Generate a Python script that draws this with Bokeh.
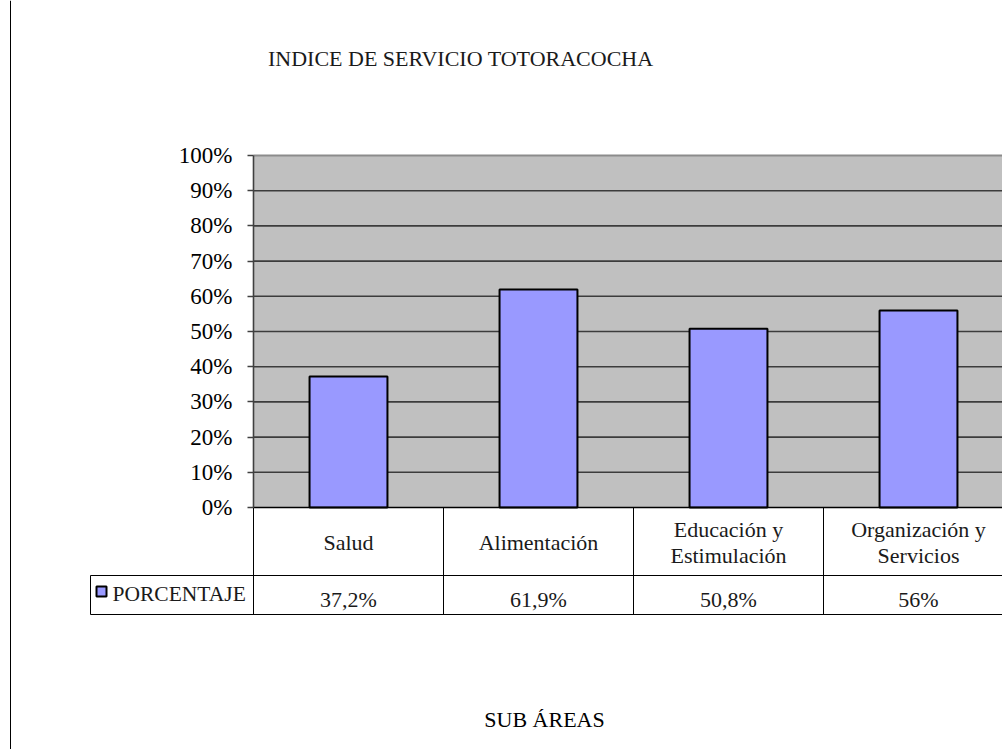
from bokeh.plotting import figure
from bokeh.models import LinearAxis, FixedTicker, PrintfTickFormatter, Range1d
from bokeh.core.properties import value
from bokeh.embed import file_html
from bokeh.resources import INLINE

# ---------------- data ----------------
categories = ["Salud", "Alimentación", "Educación y\nEstimulación", "Organización y\nServicios"]
percentages = [37.2, 61.9, 50.8, 56.0]
series_name = "PORCENTAJE"
y_ticks = [0, 10, 20, 30, 40, 50, 60, 70, 80, 90, 100]
chart_title = "INDICE DE SERVICIO  TOTORACOCHA"
x_title = "SUB ÁREAS"

value_labels = [(f"{v:g}").replace(".", ",") + "%" for v in percentages]

# ---------------- layout geometry (px, figure-local) ----------------
W, H = 1002, 749
AX_X = 253      # left edge of plot area
CAT = 190       # px per category
Y0 = 507        # 0% baseline from top
PXY = 352       # px for 100%

def px_x(px):
    return (px - AX_X) / CAT

def px_y(py):
    return (Y0 - py) / PXY * 100.0

x_start, x_end = px_x(0), px_x(W)
y_bottom, y_top = px_y(H), px_y(0)

FONT = value("Liberation Serif")

p = figure(width=W, height=H, x_range=Range1d(x_start, x_end), y_range=Range1d(y_bottom, y_top),
           min_border=0, toolbar_location=None, output_backend="svg",
           x_axis_type=None, y_axis_type=None, outline_line_color=None,
           background_fill_color="white", border_fill_color="white")

n = len(categories)
centers = [i + 0.5 for i in range(n)]
boundaries = list(range(n + 1))

# plot area background
p.quad(left=[0], right=[x_end + 1], bottom=[0], top=[100], fill_color="#C0C0C0", line_color=None)

# grid lines
inner = [t for t in y_ticks if 0 < t < max(y_ticks)]
p.segment(x0=[0] * len(inner), x1=[x_end + 1] * len(inner), y0=inner, y1=inner,
          line_color="#3c3c3c", line_width=1.6)
p.segment(x0=[0], x1=[x_end + 1], y0=[max(y_ticks)], y1=[max(y_ticks)], line_color="#8c8c8c", line_width=2)

# bars
p.vbar(x=centers, width=0.41, top=percentages, bottom=0, fill_color="#9999FF",
       line_color="black", line_width=2)

# data table below the chart
row1_bottom = px_y(575)
row2_bottom = px_y(614)
legend_left = px_x(90)
p.segment(x0=[0], x1=[x_end + 1], y0=[0], y1=[0], line_color="black", line_width=1.5)
p.segment(x0=boundaries, x1=boundaries, y0=[0] * len(boundaries), y1=[row2_bottom] * len(boundaries),
          line_color="black", line_width=1)
p.segment(x0=[legend_left, legend_left], x1=[x_end + 1, x_end + 1], y0=[row1_bottom, row2_bottom],
          y1=[row1_bottom, row2_bottom], line_color="black", line_width=1)
p.segment(x0=[legend_left], x1=[legend_left], y0=[row1_bottom], y1=[row2_bottom], line_color="black", line_width=1)

# left border of the chart area
p.segment(x0=[px_x(10)], x1=[px_x(10)], y0=[y_bottom], y1=[y_top], line_color="black", line_width=1)

# category labels
p.text(x=centers, y=[px_y(542)] * n, text=categories, text_align="center", text_baseline="middle",
       text_font=FONT, text_font_size=value("22px"), text_color="#1a1a1a", text_line_height=1.02)
# value labels
p.text(x=centers, y=[px_y(599)] * n, text=value_labels, text_align="center", text_baseline="middle",
       text_font=FONT, text_font_size=value("22px"), text_color="#1a1a1a")
# legend key
p.scatter(x=[px_x(101)], y=[px_y(591)], marker="square", size=10, fill_color="#9999FF",
          line_color="black", line_width=2)
p.text(x=[px_x(112)], y=[px_y(593)], text=[series_name], text_align="left", text_baseline="middle",
       text_font=FONT, text_font_size=value("21.5px"), text_color="#1a1a1a")

# titles
p.text(x=[px_x(463)], y=[px_y(58)], text=[chart_title], text_align="center", text_baseline="middle",
       text_font=FONT, text_font_size=value("22px"), text_color="#1a1a1a")
p.text(x=[px_x(544)], y=[px_y(719)], text=[x_title], text_align="center", text_baseline="middle",
       text_font=FONT, text_font_size=value("22px"), text_color="#000000")

# y axis
yaxis = LinearAxis(fixed_location=0, bounds=(0, 100), ticker=FixedTicker(ticks=y_ticks),
                   formatter=PrintfTickFormatter(format="%d%%"),
                   axis_line_color="#404040", axis_line_width=1.6,
                   major_tick_line_color="#404040", major_tick_line_width=1.6,
                   major_tick_out=6, major_tick_in=0, minor_tick_line_color=None,
                   major_label_text_font="Liberation Serif", major_label_text_font_size="23px",
                   major_label_text_color="#000000", major_label_standoff=15)
p.add_layout(yaxis, "left")

open("out.html", "w").write(file_html(p, INLINE))
